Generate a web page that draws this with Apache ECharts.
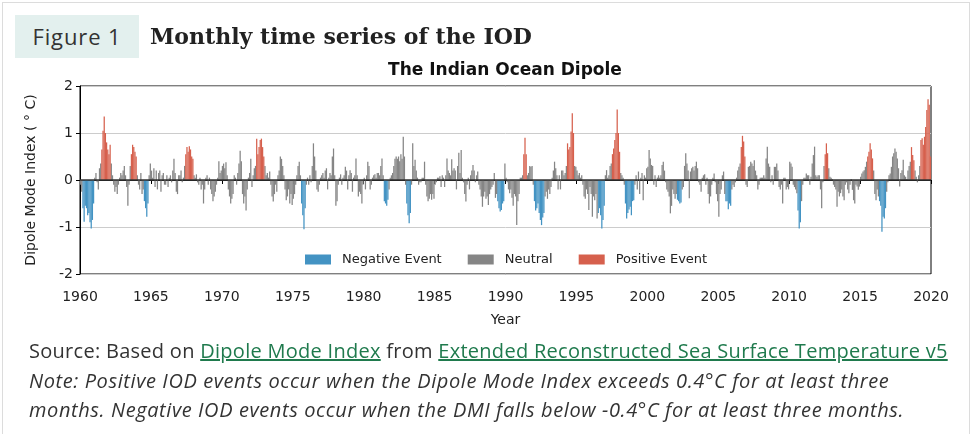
<!DOCTYPE html>
<html lang="en">
<head>
<meta charset="UTF-8">
<title>Monthly time series of the IOD</title>
<script src="https://cdn.jsdelivr.net/npm/echarts@6/dist/echarts.min.js"></script>
<style>
    body { margin: 0; background: #fff; }
    #page { position: relative; width: 976px; height: 434px; overflow: hidden; font-family: "Open Sans", sans-serif; color: #333; }
    #frame { position: absolute; left: 2px; top: 2px; width: 966px; height: 440px; border: 1px solid #dcdcdc; }
    #chart { position: absolute; left: 0; top: 0; width: 976px; height: 434px; }
    .fig { position: absolute; left: 15px; top: 15px; width: 124px; height: 43px; line-height: 43px; background: #e3f0ee; text-align: center; font-size: 22px; letter-spacing: 0.9px; color: #333; }
    .head { position: absolute; left: 150px; top: 15px; line-height: 43px; font-family: "DejaVu Serif", serif; font-weight: bold; font-size: 22px; color: #222; }
    .src { position: absolute; left: 29px; top: 336px; font-size: 20px; line-height: 29.5px; color: #333; white-space: nowrap; letter-spacing: 0.28px; }
    .src i { letter-spacing: 0.6px; }
    .src a { color: #1f7a4d; text-decoration: underline; }
</style>
</head>
<body>
<div id="page">
    <div id="frame"></div>
    <div id="chart"></div>
    <div class="fig">Figure 1</div>
    <div class="head">Monthly time series of the IOD</div>
    <div class="src">
        Source: Based on <a>Dipole Mode Index</a> from <a>Extended Reconstructed Sea Surface Temperature v5</a><br>
        <i>Note: Positive IOD events occur when the Dipole Mode Index exceeds 0.4°C for at least three<br>
        months. Negative IOD events occur when the DMI falls below -0.4°C for at least three months.</i>
    </div>
</div>
<script>
    // monthly DMI (°C), Jan..Dec per row
    var dmi1960s = [
        -0.1, -0.25, -0.6, -0.89, -0.55, -0.6, -0.75, -0.7, -0.9, -1.03, -0.85, -0.5,
        0.05, 0.15, -0.05, -0.2, 0.25, 0.35, 0.65, 1.05, 1.35, 1.0, 0.8, 0.65,
        0.55, 0.75, 0.35, 0.1, -0.1, -0.25, -0.15, -0.3, -0.1, 0.05, 0.15, 0.1,
        0.2, 0.3, 0.1, -0.15, -0.55, -0.1, 0.3, 0.55, 0.75, 0.7, 0.6, 0.5,
        0.1, -0.1, -0.2, 0.15, -0.3, -0.2, -0.45, -0.6, -0.78, -0.5, 0.1, 0.35,
        0.2, 0.05, 0.25, -0.15, 0.2, -0.2, 0.15, 0.2, -0.25, 0.1, 0.15, -0.1,
        -0.1, 0.1, -0.15, 0.05, 0.1, -0.05, 0.2, 0.45, 0.15, -0.25, -0.3, 0.1,
        0.1, 0.2, -0.05, 0.05, 0.3, 0.55, 0.7, 0.6, 0.72, 0.65, 0.5, 0.45,
        0.1, 0.05, 0.12, -0.05, -0.1, 0.05, -0.2, -0.1, -0.5, -0.2, 0.05, 0.1,
        -0.1, 0.05, -0.2, -0.3, -0.45, -0.35, -0.25, -0.1, 0.05, 0.4, 0.15, 0.2
    ];
    var dmi1970s = [
        0.3, 0.35, 0.25, 0.38, 0.1, -0.2, -0.35, -0.5, -0.4, -0.3, 0.1, 0.05,
        -0.1, 0.15, 0.35, 0.62, 0.4, -0.3, -0.5, -0.35, -0.65, -0.2, 0.05, 0.15,
        0.45, -0.15, 0.1, 0.25, 0.3, 0.88, 0.55, 0.7, 0.85, 0.88, 0.7, 0.5,
        0.3, 0.1, 0.15, 0.05, 0.18, -0.1, -0.35, -0.46, -0.3, -0.1, -0.25, 0.1,
        0.2, 0.5, 0.45, 0.3, 0.1, -0.2, -0.43, -0.35, -0.2, -0.5, -0.3, -0.53,
        -0.4, -0.3, -0.1, 0.1, 0.3, 0.39, 0.1, -0.5, -0.75, -1.05, -0.6, -0.1,
        0.05, -0.1, 0.1, -0.05, 0.3, 0.78, 0.5, 0.2, -0.2, -0.25, -0.1, 0.05,
        0.1, 0.15, 0.05, 0.2, 0.25, -0.2, 0.05, 0.15, 0.1, 0.5, 0.67, 0.1,
        -0.55, -0.45, -0.1, 0.05, 0.12, -0.1, 0.05, 0.1, 0.28, 0.2, -0.2, 0.1,
        0.21, 0.15, -0.25, 0.05, 0.1, 0.46, 0.1, -0.35, -0.25, -0.3, -0.5, -0.1
    ];
    var dmi1980s = [
        0.05, -0.2, 0.1, 0.39, 0.3, -0.2, -0.1, 0.05, 0.1, 0.12, 0.05, 0.15,
        0.15, 0.1, 0.3, 0.46, 0.1, -0.45, -0.5, -0.55, -0.42, -0.2, 0.05, 0.1,
        0.15, 0.3, 0.45, 0.5, 0.45, 0.5, 0.4, 0.55, 0.45, 0.92, 0.5, -0.1,
        -0.5, -0.75, -0.92, -0.7, -0.1, 0.78, 0.3, 0.43, 0.2, 0.05, -0.1, -0.05,
        -0.05, 0.05, 0.05, 0.39, -0.1, -0.35, -0.45, -0.4, -0.3, -0.42, -0.3, -0.4,
        -0.1, -0.05, 0.05, 0.05, 0.08, -0.15, 0.1, 0.05, -0.15, 0.1, 0.46, 0.2,
        0.15, 0.1, 0.44, 0.2, 0.25, 0.2, -0.2, 0.3, 0.58, 0.15, 0.64, 0.05,
        -0.05, -0.3, -0.46, -0.1, 0.05, -0.2, 0.1, 0.2, 0.32, 0.2, -0.05, 0.1,
        0.18, -0.1, -0.2, -0.35, -0.57, -0.35, -0.25, -0.4, -0.35, -0.53, -0.3, -0.2,
        -0.15, -0.1, 0.15, -0.38, -0.3, -0.45, -0.6, -0.67, -0.64, -0.5, -0.45, 0.35
    ];
    var dmi1990s = [
        0.05, -0.05, -0.2, -0.28, -0.2, -0.38, -0.55, -0.3, -0.35, -0.96, -0.45, -0.3,
        0.05, 0.05, 0.1, 0.55, 0.9, 0.55, 0.1, 0.15, 0.3, 0.28, 0.3, -0.1,
        -0.45, -0.65, -0.6, -0.5, -0.7, -0.85, -0.96, -0.8, -0.7, -0.35, -0.25, -0.4,
        -0.2, -0.3, -0.15, 0.05, 0.2, 0.39, 0.25, 0.1, -0.2, 0.1, -0.2, 0.2,
        0.2, 0.1, 0.15, 0.3, 0.78, 0.65, 0.7, 1.03, 1.42, 1.0, 0.3, 0.28,
        0.2, 0.1, 0.15, 0.05, 0.1, -0.1, -0.35, -0.4, -0.2, -0.3, -0.64, -0.15,
        -0.3, -0.78, -0.35, -0.43, -0.3, -0.82, -0.7, -0.6, -0.75, -1.03, -0.85, -0.55,
        0.1, 0.21, 0.05, 0.1, 0.3, 0.35, 0.55, 0.67, 0.85, 1.0, 1.5, 1.0,
        0.6, 0.15, 0.1, 0.05, -0.1, -0.5, -0.82, -0.7, -0.63, -0.57, -0.75, -0.45,
        -0.43, -0.1, 0.1, -0.2, 0.18, -0.3, 0.05, 0.15, -0.43, 0.1, 0.05, 0.25
    ];
    var dmi2000s = [
        0.28, 0.64, 0.46, 0.32, 0.3, -0.1, 0.1, -0.15, 0.05, 0.1, 0.05, 0.1,
        0.32, 0.39, 0.2, -0.05, -0.2, -0.25, -0.35, -0.71, -0.55, -0.2, -0.3, -0.4,
        -0.3, -0.42, -0.45, -0.5, -0.48, -0.2, -0.15, 0.3, 0.57, 0.35, 0.2, -0.39,
        0.18, 0.25, 0.28, 0.2, 0.3, 0.39, 0.25, -0.05, -0.1, -0.25, 0.05, 0.1,
        0.12, -0.1, 0.05, -0.3, -0.5, -0.35, -0.1, 0.05, 0.14, -0.05, -0.3, -0.45,
        -0.78, -0.3, -0.2, 0.1, 0.18, -0.3, -0.45, -0.45, -0.62, -0.5, -0.55, -0.2,
        -0.1, -0.15, -0.05, 0.05, 0.2, 0.28, 0.35, 0.7, 0.94, 0.82, 0.5, -0.1,
        -0.15, 0.28, 0.3, 0.39, 0.35, 0.3, 0.42, 0.2, 0.1, -0.2, -0.1, 0.05,
        0.05, 0.05, 0.1, 0.05, 0.46, 0.71, 0.35, 0.28, -0.05, 0.1, -0.1, 0.28,
        0.28, 0.35, 0.2, -0.15, -0.2, -0.1, -0.5, 0.05, 0.05, -0.2, -0.15, -0.2
    ];
    var dmi2010s = [
        0.39, 0.35, 0.28, -0.1, -0.15, -0.2, -0.28, -0.65, -1.03, -0.9, -0.45, -0.1,
        0.05, 0.05, 0.14, 0.1, 0.1, -0.1, 0.07, 0.35, 0.53, 0.71, 0.1, 0.07,
        0.1, 0.1, -0.2, -0.6, -0.05, 0.3, 0.55, 0.78, 0.57, 0.25, 0.07, 0.05,
        0.02, -0.1, -0.15, -0.2, -0.57, -0.25, -0.35, -0.28, -0.2, -0.35, -0.43, -0.1,
        -0.05, -0.2, -0.28, -0.1, 0.02, -0.21, -0.43, -0.5, -0.1, -0.14, -0.21, -0.14,
        0.07, 0.14, 0.18, 0.21, 0.28, 0.39, 0.5, 0.6, 0.78, 0.65, 0.46, 0.2,
        -0.3, -0.43, -0.2, -0.35, -0.45, -0.55, -1.1, -0.78, -0.82, -0.6, -0.25, -0.05,
        0.1, 0.14, 0.28, 0.5, 0.57, 0.67, 0.6, 0.46, 0.25, -0.14, 0.15, 0.21,
        0.43, 0.1, 0.07, 0.02, 0.2, 0.3, 0.39, 0.7, 0.53, 0.42, 0.2, 0.07,
        -0.05, 0.1, 0.3, 0.85, 0.89, 0.75, 0.92, 1.13, 1.49, 1.72, 1.6, 0.5
    ];

    // event periods [first month, last month]
    var negEvents = [
        ['1960-03', '1960-12'], ['1964-07', '1964-10'], ['1975-08', '1975-11'],
        ['1981-06', '1981-09'], ['1983-01', '1983-04'], ['1989-06', '1989-11'],
        ['1992-01', '1992-09'], ['1996-07', '1996-12'], ['1998-06', '1999-01'],
        ['2002-02', '2002-05'], ['2005-07', '2005-11'], ['2010-08', '2010-10'],
        ['2016-05', '2016-10']
    ];
    var posEvents = [
        ['1961-07', '1962-02'], ['1963-08', '1963-12'], ['1967-06', '1967-12'],
        ['1972-06', '1972-12'], ['1991-04', '1991-06'], ['1994-05', '1994-10'],
        ['1997-07', '1998-01'], ['2006-08', '2006-11'], ['2012-07', '2012-09'],
        ['2015-07', '2015-11'], ['2018-08', '2018-10'], ['2019-04', '2019-12']
    ];

    var dmi = [].concat(dmi1960s, dmi1970s, dmi1980s, dmi1990s, dmi2000s, dmi2010s);

    function monthIndex(s) {
        var p = s.split('-');
        return (+p[0] - 1960) * 12 + (+p[1] - 1);
    }

    var kind = dmi.map(function() { return 0; });
    negEvents.forEach(function(e) {
        for (var i = monthIndex(e[0]); i <= monthIndex(e[1]); i++) kind[i] = -1;
    });
    posEvents.forEach(function(e) {
        for (var i = monthIndex(e[0]); i <= monthIndex(e[1]); i++) kind[i] = 1;
    });

    var negData = [], neuData = [], posData = [];
    dmi.forEach(function(v, i) {
        var pt = [1960 + (i + 0.5) / 12, v];
        if (kind[i] < 0) negData.push(pt);
        else if (kind[i] > 0) posData.push(pt);
        else neuData.push(pt);
    });

    var font = 'DejaVu Sans';
    var chart = echarts.init(document.getElementById('chart'));

    function barSeries(name, color, data) {
        return {
            name: name,
            type: 'bar',
            data: data,
            barWidth: 1.25,
            barGap: '-100%',
            itemStyle: { color: color },
            animation: false,
            silent: true
        };
    }

    var series = [
        barSeries('Negative Event', '#4393c3', negData),
        barSeries('Neutral', '#858585', neuData),
        barSeries('Positive Event', '#d6604d', posData)
    ];
    series[1].markLine = {
        silent: true,
        symbol: 'none',
        label: { show: false },
        lineStyle: { color: '#333', width: 1.5, type: 'solid' },
        data: [{ yAxis: 0 }],
        animation: false
    };

    var option = {
        backgroundColor: 'transparent',
        title: {
            text: 'The Indian Ocean Dipole',
            left: 500,
            top: 57,
            textAlign: 'center',
            textStyle: { fontFamily: font, fontSize: 17, fontWeight: 'bold', color: '#111' }
        },
        legend: {
            left: 300,
            top: 248,
            icon: 'rect',
            itemWidth: 26,
            itemHeight: 10,
            itemGap: 26,
            textStyle: { fontFamily: font, fontSize: 13, color: '#222', padding: [0, 0, 0, 6] },
            data: ['Negative Event', 'Neutral', 'Positive Event']
        },
        grid: {
            left: 80, right: 45, top: 86, bottom: 160,
            show: true, borderColor: '#000', borderWidth: 1
        },
        xAxis: {
            type: 'value',
            min: 1960, max: 2020, interval: 5,
            name: 'Year',
            nameLocation: 'middle',
            nameGap: 39,
            nameTextStyle: { fontFamily: font, fontSize: 14, color: '#222' },
            axisLine: { lineStyle: { color: '#000' } },
            axisTick: { length: 4, lineStyle: { color: '#000' } },
            axisLabel: {
                fontFamily: font, fontSize: 14, color: '#222', margin: 16,
                formatter: function(v) { return String(v); }
            },
            splitLine: { show: false }
        },
        yAxis: {
            type: 'value',
            min: -2, max: 2, interval: 1,
            name: 'Dipole Mode Index ( \u00b0 C)',
            nameLocation: 'middle',
            nameRotate: 90,
            nameGap: 42,
            nameTextStyle: { fontFamily: font, fontSize: 14, color: '#222' },
            axisLine: { show: true, lineStyle: { color: '#000' } },
            axisTick: { show: true, length: 4, lineStyle: { color: '#000' } },
            axisLabel: { fontFamily: font, fontSize: 14, color: '#222', margin: 7 },
            splitLine: { show: true, lineStyle: { color: '#cccccc', width: 1 } }
        },
        series: series
    };

    chart.setOption(option);
</script>
</body>
</html>
